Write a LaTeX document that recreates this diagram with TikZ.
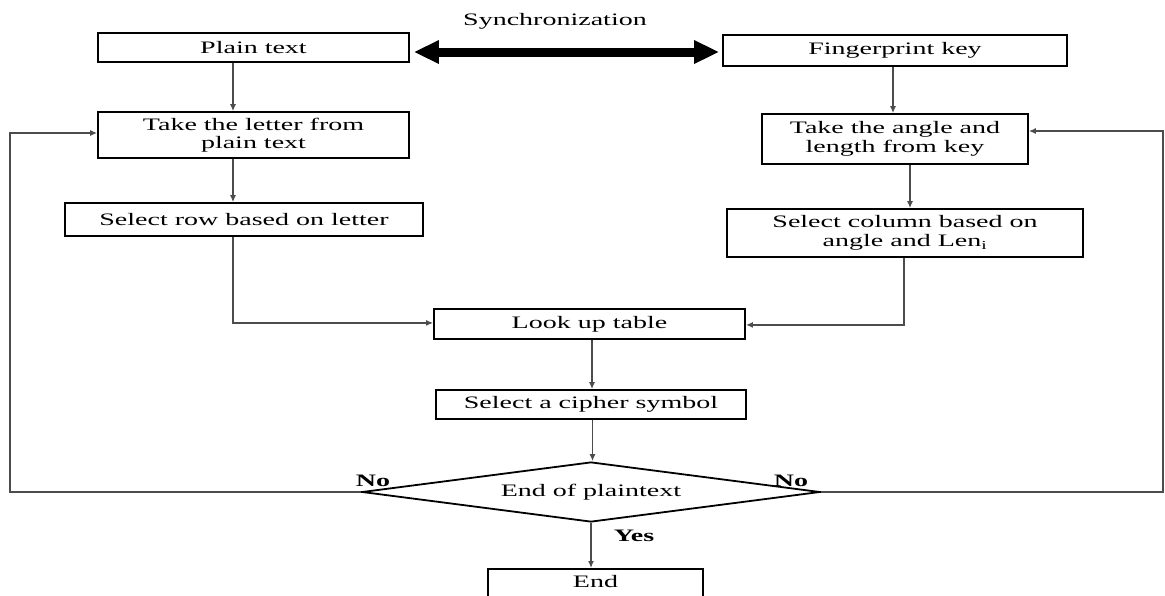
\documentclass[tikz,border=0pt]{standalone}
\usepackage{fontspec}
\setmainfont{Liberation Serif}[FakeStretch=1.6]
\usetikzlibrary{arrows.meta,shapes.geometric,calc}
\tikzset{
  box/.style={draw=black,line width=1.8pt,rectangle,inner sep=0pt,align=center,font=\fontsize{17.5}{18.5}\selectfont},
  conn/.style={draw=black!70,line width=1.3pt,-{Latex[length=7pt,width=6pt]}},
  lbl/.style={font=\fontsize{17.5}{18.5}\selectfont\bfseries,inner sep=0pt}
}
\begin{document}
\begin{tikzpicture}[x=1pt,y=-1pt]
\useasboundingbox (0,0) rectangle (1165,595);
\node[box,minimum width=311pt,minimum height=29pt] (plain) at (253.5,47.5) {Plain text};
\node[box,minimum width=344pt,minimum height=31pt] (finger) at (895,50.5) {Fingerprint key};
\node[box,minimum width=311pt,minimum height=46pt] (take) at (253.5,135) {Take the letter from\\plain text};
\node[box,minimum width=266pt,minimum height=50pt] (angle) at (895,139) {Take the angle and\\length from key};
\node[box,minimum width=358pt,minimum height=33pt] (row) at (244,219.5) {Select row based on letter};
\node[box,minimum width=356pt,minimum height=48pt] (col) at (905,233) {Select column based on\\angle and Len\textsubscript{i}};
\node[box,minimum width=311pt,minimum height=30pt] (look) at (589.5,324) {Look up table};
\node[box,minimum width=310pt,minimum height=29pt] (cipher) at (591,404.5) {Select a cipher symbol};
\node[draw=black,line width=1.8pt,diamond,aspect=7.6,inner sep=0pt,minimum width=458pt,minimum height=60pt,font=\fontsize{17.5}{18.5}\selectfont] (dec) at (591,492) {End of plaintext};
\node[box,minimum width=215pt,minimum height=40pt,anchor=north] (endb) at (595.5,568) {};
\node[font=\fontsize{17.5}{18.5}\selectfont,inner sep=0pt] (endt) at (595.5,582) {End};
\node[font=\fontsize{17.5}{18.5}\selectfont,inner sep=0pt] (sync) at (555,21) {Synchronization};
% sync arrow
\draw[line width=9pt,{Triangle[length=25pt,width=22pt]}-{Triangle[length=25pt,width=22pt]}] ($(plain.east)+(4,4.5)$) coordinate (s1) -- ($(finger.west)+(-3,1.5)$) coordinate (s2);
% connectors
\coordinate (a1) at ($(plain.south)+(-20.5,0)$);
\draw[conn] (a1) -- (a1 |- take.north);
\coordinate (a2) at ($(take.south)+(-20.5,0)$);
\draw[conn] (a2) -- (a2 |- row.north);
\coordinate (a3) at ($(row.south)+(-11,0)$);
\coordinate (a3b) at ($(a3)+(0,86)$);
\draw[conn] (a3) -- (a3b) -- (a3b -| look.west);
\coordinate (b1) at ($(finger.south)+(-2,0)$);
\draw[conn] (b1) -- (b1 |- angle.north);
\coordinate (b2) at ($(angle.south)+(15,0)$);
\draw[conn] (b2) -- (b2 |- col.north);
\coordinate (b3) at ($(col.south)+(-1,0)$);
\coordinate (b3b) at ($(b3)+(0,67)$);
\draw[conn] (b3) -- (b3b) -- (b3b -| look.east);
\coordinate (c1) at ($(look.south)+(2.5,0)$);
\draw[conn] (c1) -- (c1 |- cipher.north);
\coordinate (c2) at ($(cipher.south)+(1.5,0)$);
\draw[conn] (c2) -- (c2 |- dec.north);
\draw[conn] (dec.south) -- (dec.south |- endb.north);
% No loops
\coordinate (l1) at (10,492);
\coordinate (l2) at (10,133);
\draw[conn] (dec.west) -- (l1) -- (l2) -- (l2 -| take.west);
\coordinate (r1) at (1163,492);
\coordinate (r2) at (1163,131);
\draw[conn] (dec.east) -- (r1) -- (r2) -- (r2 -| angle.east);
% labels
\node[lbl] (no1) at (373,481) {No};
\node[lbl] (no2) at (791,481) {No};
\node[lbl] (yes) at (634,536) {Yes};
\end{tikzpicture}
\end{document}
